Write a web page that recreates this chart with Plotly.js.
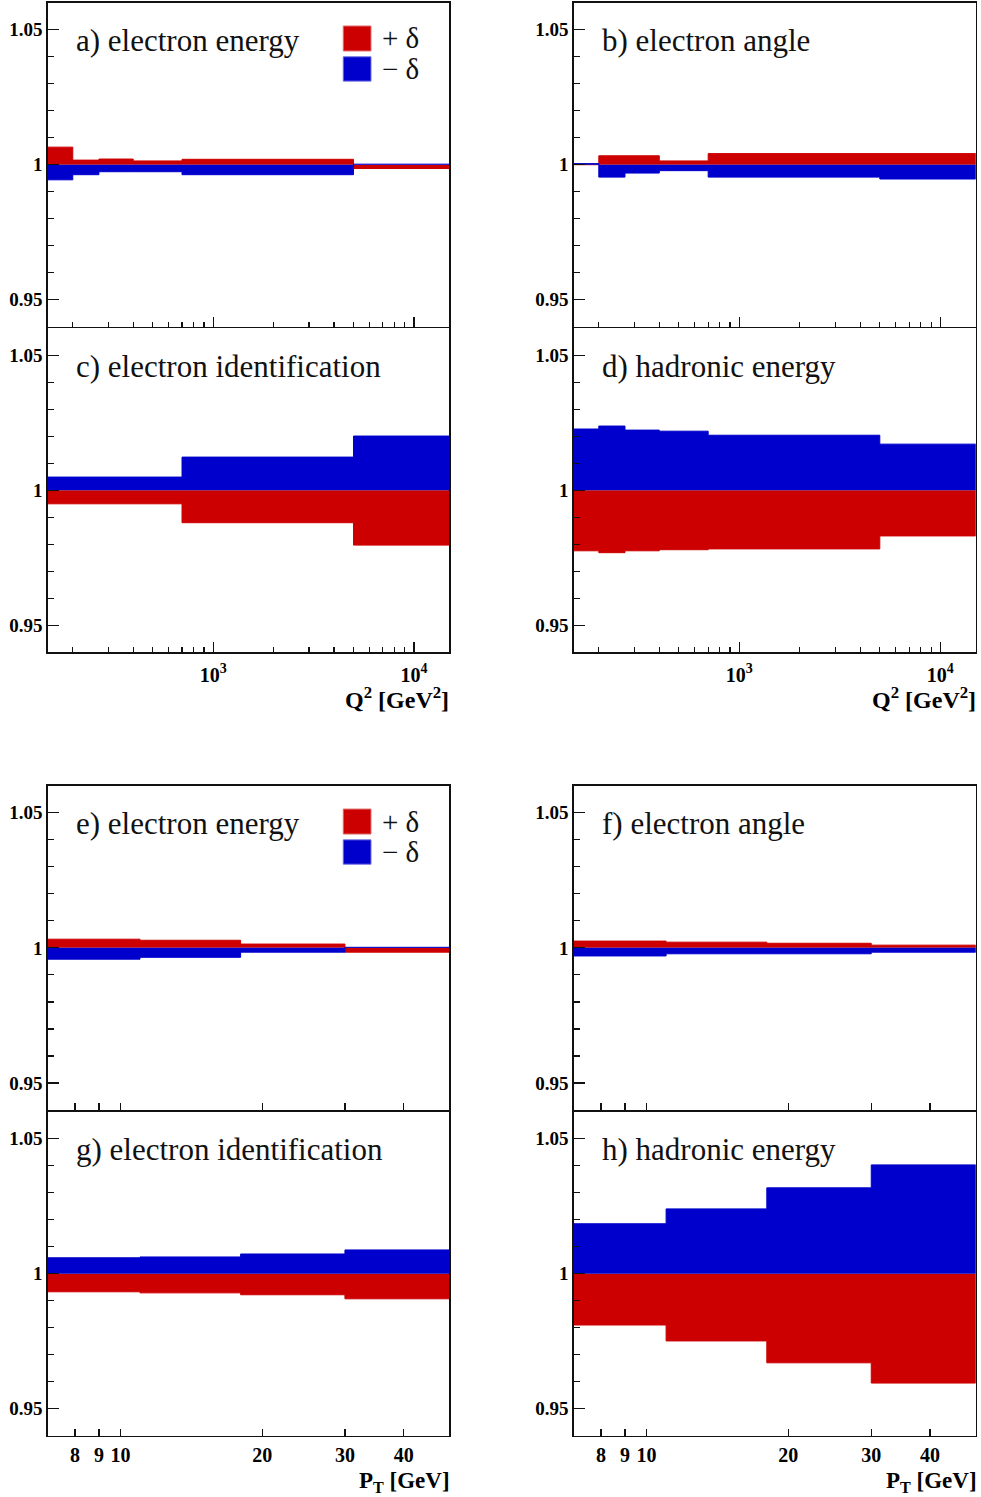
<!DOCTYPE html>
<html>
<head>
<meta charset="utf-8">
<script src="https://cdn.plot.ly/plotly-3.0.1.min.js"></script>
<style>html,body{margin:0;padding:0;background:#fff;}#plot{width:981px;height:1497px;}</style>
</head>
<body>
<div id="plot"></div>
<script>
// ---------------- data ----------------
var q2Edges = [150, 200, 270, 400, 700, 5000, 15000];
var ptEdges = [7, 11, 18, 30, 50];

// Q2 panels (ratio values for +delta / -delta shifts)
var q2ElecEnergyPlus  = [1.0065, 1.0017, 1.0021, 1.0014, 1.0020, 0.9986];
var q2ElecEnergyMinus = [0.9944, 0.9963, 0.9974, 0.9974, 0.9963, 1.0002];
var q2ElecAnglePlus   = [1.0000, 1.0033, 1.0033, 1.0014, 1.0041, 1.0041];
var q2ElecAngleMinus  = [1.0004, 0.9954, 0.9969, 0.9978, 0.9954, 0.9947];
var q2ElecIdPlus      = [0.9950, 0.9950, 0.9950, 0.9950, 0.9880, 0.9797];
var q2ElecIdMinus     = [1.0049, 1.0049, 1.0049, 1.0049, 1.0123, 1.0201];
var q2HadEnergyPlus   = [0.9776, 0.9769, 0.9776, 0.9780, 0.9783, 0.9831];
var q2HadEnergyMinus  = [1.0227, 1.0238, 1.0223, 1.0219, 1.0204, 1.0171];

// PT panels
var ptElecEnergyPlus  = [1.0032, 1.0028, 1.0014, 0.9984];
var ptElecEnergyMinus = [0.9958, 0.9965, 0.9984, 1.0002];
var ptElecAnglePlus   = [1.0025, 1.0021, 1.0017, 1.0010];
var ptElecAngleMinus  = [0.9970, 0.9978, 0.9978, 0.9984];
var ptElecIdPlus      = [0.9933, 0.9929, 0.9922, 0.9907];
var ptElecIdMinus     = [1.0059, 1.0062, 1.0073, 1.0088];
var ptHadEnergyPlus   = [0.9810, 0.9751, 0.9670, 0.9595];
var ptHadEnergyMinus  = [1.0185, 1.0240, 1.0318, 1.0403];

var panelLabels = ['a) electron energy', 'b) electron angle', 'c) electron identification', 'd) hadronic energy',
                   'e) electron energy', 'f) electron angle', 'g) electron identification', 'h) hadronic energy'];
var legendLabels = ['+ \u03b4', '\u2212 \u03b4'];
var q2TickVals = [1000, 10000];
var q2TickText = ['10<sup>3</sup>', '10<sup>4</sup>'];
var q2MinorVals = [200, 300, 400, 500, 600, 700, 800, 900, 2000, 3000, 4000, 5000, 6000, 7000, 8000, 9000];
var ptTickVals = [8, 9, 10, 20, 30, 40];
var ptTickText = ['8', '9', '10', '20', '30', '40'];
var yTickVals = [0.95, 1, 1.05];
var yTickText = ['0.95', '1', '1.05'];
var yMinorVals = [0.96, 0.97, 0.98, 0.99, 1.01, 1.02, 1.03, 1.04];

// ---------------- style ----------------
var RED = '#cc0000', BLUE = '#0000cc';
var SERIF = 'Liberation Serif, Times New Roman, serif';
var colDom = [[0.0486, 0.4580], [0.5848, 0.9946]];
var rowDom = [[0.78176, 0.99820], [0.56426, 0.78069], [0.25852, 0.47515], [0.04095, 0.25738]];

function stepPoly(edges, vals) {
  var xs = [edges[0]], ys = [1];
  for (var i = 0; i < vals.length; i++) {
    xs.push(edges[i]); ys.push(vals[i]);
    xs.push(edges[i + 1]); ys.push(vals[i]);
  }
  xs.push(edges[edges.length - 1]); ys.push(1);
  return {x: xs, y: ys};
}

var panels = [
  {edges: q2Edges, plus: q2ElecEnergyPlus, minus: q2ElecEnergyMinus, row: 0, col: 0, kind: 'q2', labels: false, legend: true},
  {edges: q2Edges, plus: q2ElecAnglePlus,  minus: q2ElecAngleMinus,  row: 0, col: 1, kind: 'q2', labels: false},
  {edges: q2Edges, plus: q2ElecIdPlus,     minus: q2ElecIdMinus,     row: 1, col: 0, kind: 'q2', labels: true},
  {edges: q2Edges, plus: q2HadEnergyPlus,  minus: q2HadEnergyMinus,  row: 1, col: 1, kind: 'q2', labels: true},
  {edges: ptEdges, plus: ptElecEnergyPlus, minus: ptElecEnergyMinus, row: 2, col: 0, kind: 'pt', labels: false, legend: true},
  {edges: ptEdges, plus: ptElecAnglePlus,  minus: ptElecAngleMinus,  row: 2, col: 1, kind: 'pt', labels: false},
  {edges: ptEdges, plus: ptElecIdPlus,     minus: ptElecIdMinus,     row: 3, col: 0, kind: 'pt', labels: true},
  {edges: ptEdges, plus: ptHadEnergyPlus,  minus: ptHadEnergyMinus,  row: 3, col: 1, kind: 'pt', labels: true}
];

var traces = [];
var layout = {
  width: 981, height: 1497,
  margin: {l: 0, r: 0, t: 0, b: 0},
  paper_bgcolor: '#fff', plot_bgcolor: '#fff',
  showlegend: false,
  annotations: [], shapes: []
};

panels.forEach(function (p, i) {
  var n = i + 1;
  var xa = 'x' + (n === 1 ? '' : n), ya = 'y' + (n === 1 ? '' : n);
  var xk = 'xaxis' + (n === 1 ? '' : n), yk = 'yaxis' + (n === 1 ? '' : n);
  var pp = stepPoly(p.edges, p.plus), pm = stepPoly(p.edges, p.minus);
  traces.push({type: 'scatter', mode: 'lines', x: pp.x, y: pp.y, fill: 'toself', fillcolor: RED,
               line: {color: RED, width: 1}, xaxis: xa, yaxis: ya, hoverinfo: 'skip', name: '+\u03b4'});
  traces.push({type: 'scatter', mode: 'lines', x: pm.x, y: pm.y, fill: 'toself', fillcolor: BLUE,
               line: {color: BLUE, width: 1}, xaxis: xa, yaxis: ya, hoverinfo: 'skip', name: '-\u03b4'});

  var isQ2 = p.kind === 'q2';
  var e0 = p.edges[0], e1 = p.edges[p.edges.length - 1];
  var xaxis = {
    domain: colDom[p.col], anchor: ya, type: 'log',
    range: [Math.log10(e0), Math.log10(e1)],
    showline: true, linecolor: '#111', linewidth: 1.5, mirror: true,
    showgrid: false, zeroline: false,
    ticks: 'inside', ticklen: isQ2 ? 10 : 7, tickwidth: 1.2, tickcolor: '#111',
    tickmode: 'array',
    tickvals: isQ2 ? q2TickVals : ptTickVals,
    ticktext: (isQ2 ? q2TickText : ptTickText).map(function (t) { return '<b>' + t + '</b>'; }),
    showticklabels: p.labels,
    tickfont: {family: SERIF, size: 20, color: '#000'},
    ticklabelstandoff: isQ2 ? 4 : 1,
    fixedrange: true
  };
  if (isQ2) {
    xaxis.minor = {tickmode: 'array', tickvals: q2MinorVals, ticks: 'inside', ticklen: 5, tickwidth: 1.2, tickcolor: '#111', showgrid: false};
  }
  layout[xk] = xaxis;
  layout[yk] = {
    domain: rowDom[p.row], anchor: xa,
    range: [0.94, 1.06],
    showline: true, linecolor: '#111', linewidth: 1.5, mirror: true,
    showgrid: false, zeroline: false,
    ticks: 'inside', ticklen: 11, tickwidth: 1.2, tickcolor: '#111',
    tickmode: 'array', tickvals: yTickVals,
    ticktext: yTickText.map(function (t) { return '<b>' + t + '</b>'; }),
    tickfont: {family: SERIF, size: 19, color: '#000'},
    ticklabelstandoff: 0,
    minor: {tickmode: 'array', tickvals: yMinorVals, ticks: 'inside', ticklen: 6, tickwidth: 1.2, tickcolor: '#111', showgrid: false},
    fixedrange: true
  };

  layout.annotations.push({
    xref: xa + ' domain', yref: ya + ' domain', x: 0.0655, y: 0.882,
    xanchor: 'left', yanchor: 'middle', showarrow: false,
    text: panelLabels[i], font: {family: SERIF, size: 31, color: '#111'}
  });

  if (p.legend) {
    layout.shapes.push({type: 'rect', xref: xa + ' domain', yref: ya + ' domain',
      x0: 0.736, x1: 0.805, y0: 0.851, y1: 0.928, fillcolor: RED, line: {color: '#e06a6a', width: 1}});
    layout.shapes.push({type: 'rect', xref: xa + ' domain', yref: ya + ' domain',
      x0: 0.736, x1: 0.805, y0: 0.758, y1: 0.833, fillcolor: BLUE, line: {color: '#6a6ae0', width: 1}});
    layout.annotations.push({xref: xa + ' domain', yref: ya + ' domain', x: 0.827, y: 0.8895,
      xanchor: 'left', yanchor: 'middle', showarrow: false, text: legendLabels[0],
      font: {family: SERIF, size: 29, color: '#111'}});
    layout.annotations.push({xref: xa + ' domain', yref: ya + ' domain', x: 0.827, y: 0.7955,
      xanchor: 'left', yanchor: 'middle', showarrow: false, text: legendLabels[1],
      font: {family: SERIF, size: 29, color: '#111'}});
  }

  if (p.labels) {
    if (isQ2) {
      layout.annotations.push({
        xref: xa + ' domain', yref: 'paper', x: 1.005, y: 1 - 698 / 1497,
        xanchor: 'right', yanchor: 'middle', showarrow: false,
        text: '<b>Q<sup>2</sup> [GeV<sup>2</sup>]</b>',
        font: {family: SERIF, size: 24, color: '#000'}
      });
    } else {
      layout.annotations.push({
        xref: xa + ' domain', yref: 'paper', x: 1.005, y: 0,
        xanchor: 'right', yanchor: 'bottom', showarrow: false, borderpad: 0,
        text: '<b>P<sub>T</sub> [GeV]</b>',
        font: {family: SERIF, size: 23, color: '#000'}
      });
    }
  }
});

Plotly.newPlot('plot', traces, layout, {displayModeBar: false, staticPlot: true});
</script>
</body>
</html>
